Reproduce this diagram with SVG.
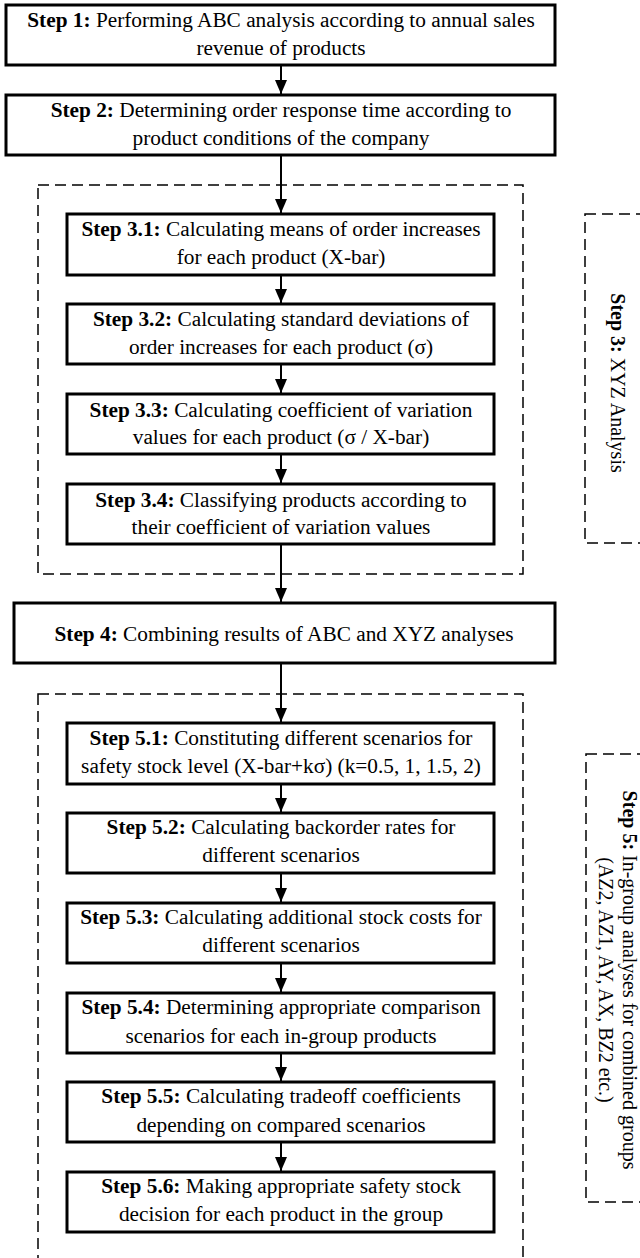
<svg xmlns="http://www.w3.org/2000/svg" width="640" height="1258" viewBox="0 0 640 1258">
<style>
text{font-family:"Liberation Serif","Times New Roman",serif;font-size:21.3px;fill:#000;text-anchor:middle}
.b{font-weight:bold}
.box{fill:#fff;stroke:#000;stroke-width:3}
.grp{fill:none;stroke:#000;stroke-width:1.5;stroke-dasharray:11 6}
.con{fill:none;stroke:#000;stroke-width:2;marker-end:url(#ah)}
.side{font-size:20px}
</style>
<defs>
<marker id="ah" viewBox="0 0 14 12" refX="14" refY="6" markerWidth="14" markerHeight="12" markerUnits="userSpaceOnUse" orient="auto">
<path d="M0,0 L14,6 L0,12 z" fill="#000"/>
</marker>
</defs>
<rect width="640" height="1258" fill="#fff"/>
<g id="groups">
<rect class="grp" x="38" y="185" width="485" height="389"/>
<rect class="grp" x="38" y="694" width="485" height="600"/>
<rect class="grp" x="585" y="214" width="80" height="329"/>
<rect class="grp" x="586" y="754" width="80" height="448"/>
</g>
<g id="connectors">
<line class="con" x1="281" y1="65" x2="281" y2="94"/>
<line class="con" x1="281" y1="155" x2="281" y2="213"/>
<line class="con" x1="281" y1="275" x2="281" y2="303"/>
<line class="con" x1="281" y1="364" x2="281" y2="393"/>
<line class="con" x1="281" y1="454" x2="281" y2="483"/>
<line class="con" x1="281" y1="544" x2="281" y2="602"/>
<line class="con" x1="281" y1="663" x2="281" y2="722"/>
<line class="con" x1="281" y1="784" x2="281" y2="812"/>
<line class="con" x1="281" y1="873" x2="281" y2="902"/>
<line class="con" x1="281" y1="963" x2="281" y2="992"/>
<line class="con" x1="281" y1="1053" x2="281" y2="1081"/>
<line class="con" x1="281" y1="1142" x2="281" y2="1171"/>
</g>
<g id="step1">
<rect class="box" x="6" y="5" width="549" height="60"/>
<text x="281" y="27"><tspan class="b">Step 1:</tspan> Performing ABC analysis according to annual sales</text>
<text x="281" y="55">revenue of products</text>
</g>
<g id="step2">
<rect class="box" x="6" y="95" width="549" height="60"/>
<text x="281" y="117"><tspan class="b">Step 2:</tspan> Determining order response time according to</text>
<text x="281" y="145">product conditions of the company</text>
</g>
<g id="step3_1">
<rect class="box" x="67" y="214" width="427" height="61"/>
<text x="281" y="236"><tspan class="b">Step 3.1:</tspan> Calculating means of order increases</text>
<text x="281" y="264">for each product (X-bar)</text>
</g>
<g id="step3_2">
<rect class="box" x="67" y="304" width="427" height="60"/>
<text x="281" y="326"><tspan class="b">Step 3.2:</tspan> Calculating standard deviations of</text>
<text x="281" y="354">order increases for each product (σ)</text>
</g>
<g id="step3_3">
<rect class="box" x="67" y="394" width="427" height="60"/>
<text x="281" y="417"><tspan class="b">Step 3.3:</tspan> Calculating coefficient of variation</text>
<text x="281" y="444">values for each product (σ / X-bar)</text>
</g>
<g id="step3_4">
<rect class="box" x="67" y="484" width="427" height="60"/>
<text x="281" y="507"><tspan class="b">Step 3.4:</tspan> Classifying products according to</text>
<text x="281" y="534">their coefficient of variation values</text>
</g>
<g id="step3_label">
<text class="side" transform="translate(611,383) rotate(90)"><tspan class="b">Step 3:</tspan> XYZ Analysis</text>
</g>
<g id="step4">
<rect class="box" x="14" y="603" width="541" height="60"/>
<text x="284" y="641"><tspan class="b">Step 4:</tspan> Combining results of ABC and XYZ analyses</text>
</g>
<g id="step5_1">
<rect class="box" x="67" y="723" width="427" height="61"/>
<text x="281" y="745"><tspan class="b">Step 5.1:</tspan> Constituting different scenarios for</text>
<text x="281" y="773">safety stock level (X-bar+kσ) (k=0.5, 1, 1.5, 2)</text>
</g>
<g id="step5_2">
<rect class="box" x="67" y="813" width="427" height="60"/>
<text x="281" y="834"><tspan class="b">Step 5.2:</tspan> Calculating backorder rates for</text>
<text x="281" y="862">different scenarios</text>
</g>
<g id="step5_3">
<rect class="box" x="67" y="903" width="427" height="60"/>
<text x="281" y="924"><tspan class="b">Step 5.3:</tspan> Calculating additional stock costs for</text>
<text x="281" y="952">different scenarios</text>
</g>
<g id="step5_4">
<rect class="box" x="67" y="993" width="427" height="60"/>
<text x="281" y="1014"><tspan class="b">Step 5.4:</tspan> Determining appropriate comparison</text>
<text x="281" y="1043">scenarios for each in-group products</text>
</g>
<g id="step5_5">
<rect class="box" x="67" y="1082" width="427" height="60"/>
<text x="281" y="1103"><tspan class="b">Step 5.5:</tspan> Calculating tradeoff coefficients</text>
<text x="281" y="1132">depending on compared scenarios</text>
</g>
<g id="step5_6">
<rect class="box" x="67" y="1172" width="427" height="60"/>
<text x="281" y="1193"><tspan class="b">Step 5.6:</tspan> Making appropriate safety stock</text>
<text x="281" y="1221">decision for each product in the group</text>
</g>
<g id="step5_label">
<text class="side" transform="translate(623,980) rotate(90)"><tspan class="b">Step 5:</tspan> In-group analyses for combined groups<tspan x="0" dy="24">(AZ2, AZ1, AY, AX, BZ2 etc.)</tspan></text>
</g>
</svg>
